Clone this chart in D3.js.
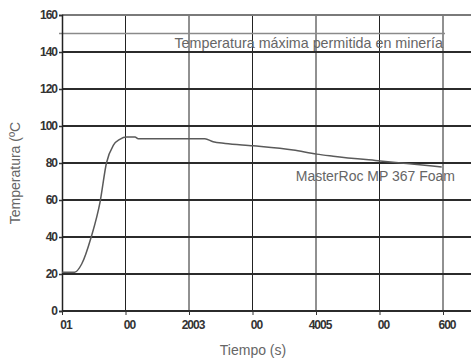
<!DOCTYPE html>
<html>
<head>
<meta charset="utf-8">
<script src="https://cdn.jsdelivr.net/npm/d3@7"></script>
<style>
  html, body { margin: 0; padding: 0; background: #fff; }
  svg { display: block; font-family: "Liberation Sans", Arial, sans-serif; }
</style>
</head>
<body>
<svg id="chart" width="471" height="359"></svg>
<script>
// time (s) and temperature (ºC)
const timeS = [0, 20, 31, 46, 60, 70, 81, 91, 102, 115, 120, 225, 238, 257, 301, 364, 401, 427, 501, 543, 598]
const tempC = [21, 21, 25.4, 40, 59, 80, 89.7, 92.8, 94, 94, 93.1, 93.1, 91.5, 90.6, 89.3, 87, 84.8, 83.7, 81.1, 79.7, 77.9]

const xTicks = [0, 100, 200, 300, 400, 500, 600]
const xTickLabels = ['01', '00', '2003', '00', '4005', '00', '600']
const yTicks = [0, 20, 40, 60, 80, 100, 120, 140, 160]
const maxAllowed = 150

const seriesName = 'MasterRoc MP 367 Foam'
const limitLabel = 'Temperatura máxima permitida en minería'

const W = 471
const H = 359
const margin = { top: 15, left: 62, bottom: 48 }

const svg = d3.select('#chart')
const x = d3.scaleLinear().domain([0, 600]).range([margin.left, 443])
const y = d3.scaleLinear().domain([0, 160]).range([H - margin.bottom, margin.top])

const data = timeS.map((t, i) => ({ t, v: tempC[i] }))

// vertical grid
svg.append('g')
  .selectAll('line')
  .data(xTicks.slice(1))
  .join('line')
  .attr('x1', d => x(d)).attr('x2', d => x(d))
  .attr('y1', y(160)).attr('y2', y(0))
  .attr('stroke', '#222')
  .attr('stroke-width', 1)

// horizontal grid (top line lighter)
svg.append('g')
  .selectAll('line')
  .data(yTicks)
  .join('line')
  .attr('x1', margin.left).attr('x2', W)
  .attr('y1', d => y(d)).attr('y2', d => y(d))
  .attr('stroke', d => (d === 160 ? '#7a7a7a' : '#2b2b2b'))
  .attr('stroke-width', 2)

// max allowed line
svg.append('line')
  .attr('x1', margin.left - 3).attr('x2', x(600) + 2)
  .attr('y1', y(maxAllowed)).attr('y2', y(maxAllowed))
  .attr('stroke', '#8a8a8a')
  .attr('stroke-width', 1.5)

svg.append('text')
  .attr('x', x(600))
  .attr('y', y(maxAllowed) + 14)
  .attr('text-anchor', 'end')
  .attr('font-size', 14.3)
  .attr('fill', '#666')
  .text(limitLabel)

// y axis
const yAxis = svg.append('g')
  .attr('transform', `translate(${margin.left},0)`)
  .call(d3.axisLeft(y).tickValues(yTicks).tickSize(3).tickPadding(2))
yAxis.select('.domain').attr('stroke', '#222').attr('stroke-width', 1.5)
yAxis.selectAll('.tick line').attr('stroke', '#333').attr('stroke-width', 1.5)
yAxis.selectAll('.tick text')
  .attr('font-size', 12)
  .attr('font-weight', 'bold')
  .attr('letter-spacing', '-1px')
  .attr('fill', '#333')
  .attr('font-family', '"Liberation Sans", Arial, sans-serif')

// x axis
const xAxis = svg.append('g')
  .attr('transform', `translate(0,${y(0)})`)
  .call(d3.axisBottom(x).tickValues(xTicks).tickSize(4).tickPadding(5)
    .tickFormat((d, i) => xTickLabels[i]))
xAxis.select('.domain').remove()
xAxis.selectAll('.tick line').attr('stroke', '#333').attr('stroke-width', 1)
xAxis.selectAll('.tick text')
  .attr('dx', 3.5)
  .attr('font-size', 12)
  .attr('font-weight', 'bold')
  .attr('letter-spacing', '-1px')
  .attr('fill', '#333')
  .attr('font-family', '"Liberation Sans", Arial, sans-serif')

// curve
svg.append('path')
  .datum(data)
  .attr('fill', 'none')
  .attr('stroke', '#5a5a5a')
  .attr('stroke-width', 1.5)
  .attr('d', d3.line().x(d => x(d.t)).y(d => y(d.v)).curve(d3.curveMonotoneX))

svg.append('text')
  .attr('x', 455)
  .attr('y', 181)
  .attr('text-anchor', 'end')
  .attr('font-size', 14)
  .attr('fill', '#666')
  .text(seriesName)

// axis titles
svg.append('text')
  .attr('x', 253)
  .attr('y', 355)
  .attr('text-anchor', 'middle')
  .attr('font-size', 14)
  .attr('fill', '#666')
  .text('Tiempo (s)')

svg.append('text')
  .attr('transform', 'translate(20,173) rotate(-90)')
  .attr('text-anchor', 'middle')
  .attr('font-size', 14)
  .attr('fill', '#666')
  .text('Temperatura (ºC')
</script>
</body>
</html>
